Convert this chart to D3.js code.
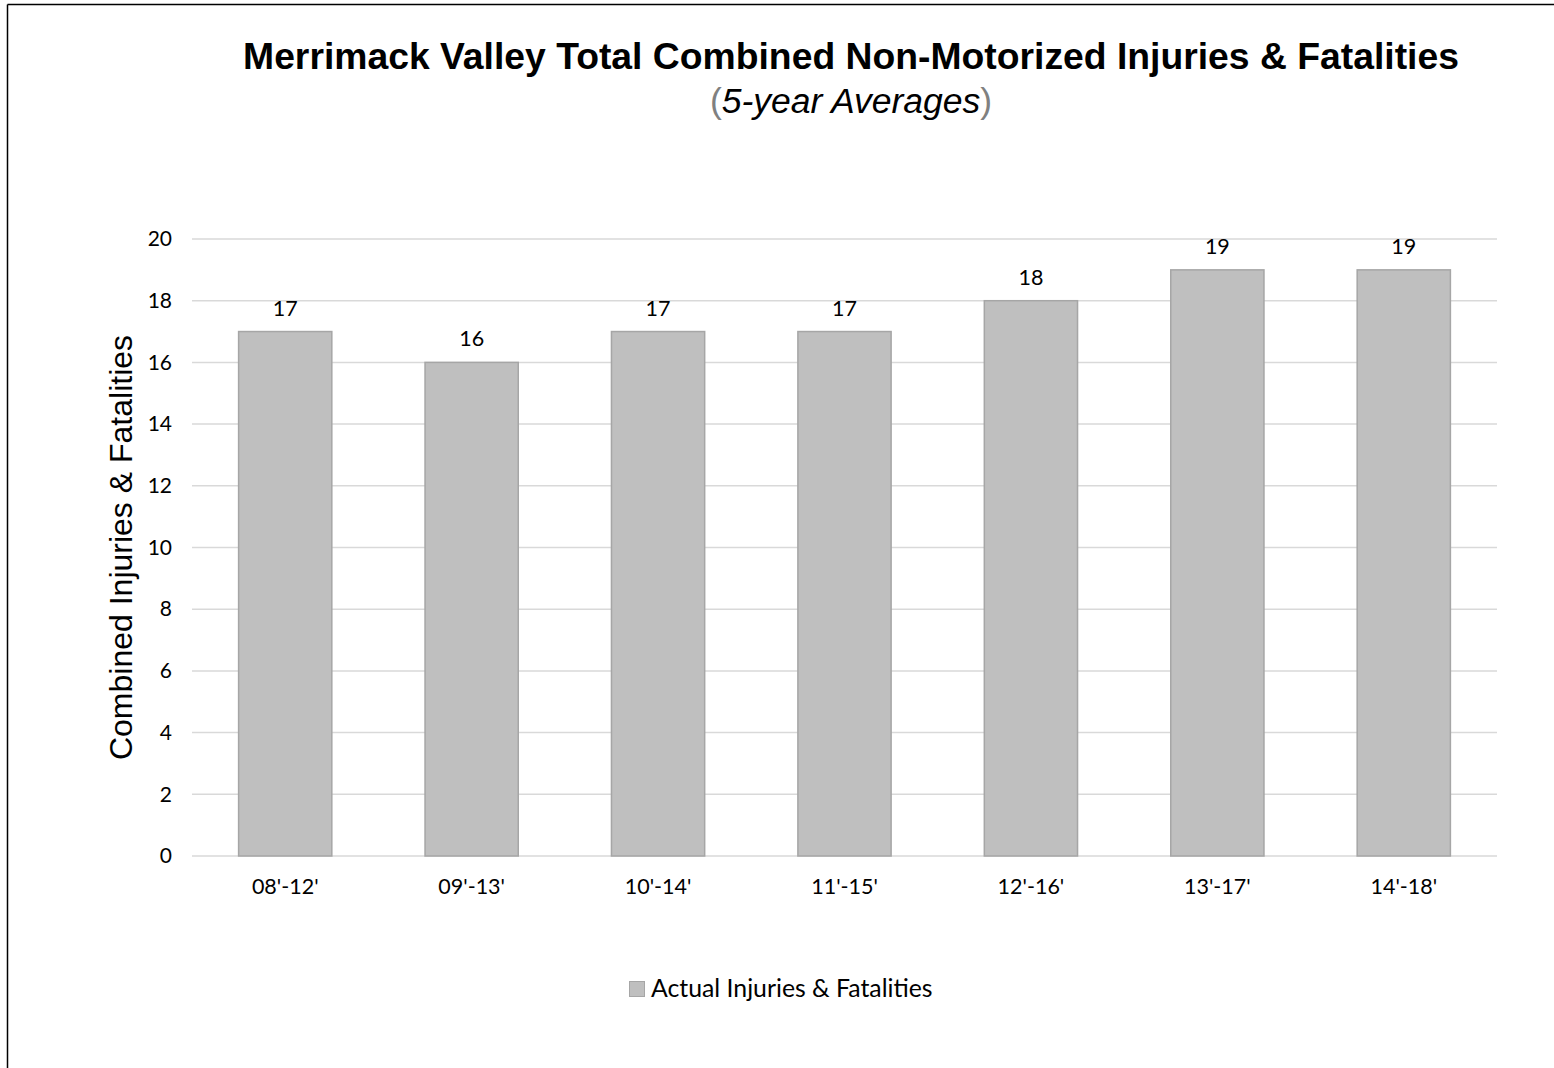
<!DOCTYPE html>
<html>
<head>
<meta charset="utf-8">
<script src="https://cdn.jsdelivr.net/npm/d3@7"></script>
<style>
  html, body { margin: 0; padding: 0; background: #fff; }
  svg { display: block; }
</style>
</head>
<body>
<svg id="chart" width="1554" height="1068"></svg>
<script>
const categories = ["08'-12'", "09'-13'", "10'-14'", "11'-15'", "12'-16'", "13'-17'", "14'-18'"];
const values = [17, 16, 17, 17, 18, 19, 19];
const yTicks = [0, 2, 4, 6, 8, 10, 12, 14, 16, 18, 20];
const seriesName = "Actual Injuries & Fatalities";

const svg = d3.select("#chart");
const W = 1554, H = 1068;
const margin = { left: 192, right: 57, top: 239, bottom: 212 };
const tickFont = "Lato, 'Open Sans', sans-serif";

// outer border (top and left visible)
svg.append("line").attr("x1", 7.5).attr("x2", W).attr("y1", 4.5).attr("y2", 4.5)
  .attr("stroke", "#000").attr("stroke-width", 1.5);
svg.append("line").attr("x1", 7.5).attr("x2", 7.5).attr("y1", 4.5).attr("y2", H)
  .attr("stroke", "#000").attr("stroke-width", 1.5);

const x = d3.scaleBand().domain(categories).range([margin.left, W - margin.right]).paddingInner(0.5).paddingOuter(0.25);
const y = d3.scaleLinear().domain([0, 20]).range([H - margin.bottom, margin.top]);

// gridlines
svg.append("g").selectAll("line").data(yTicks).join("line")
  .attr("x1", margin.left).attr("x2", W - margin.right)
  .attr("y1", d => y(d)).attr("y2", d => y(d))
  .attr("stroke", "#d9d9d9").attr("stroke-width", 1.5);

// y axis tick labels
const yAxis = d3.axisLeft(y).tickValues(yTicks).tickSize(0).tickPadding(20);
const gy = svg.append("g").attr("transform", `translate(${margin.left},0)`).call(yAxis);
gy.select(".domain").remove();
gy.selectAll("text").attr("font-family", tickFont).attr("font-size", 21).attr("fill", "#000");

// x axis tick labels
const xAxis = d3.axisBottom(x).tickSize(0).tickPadding(23);
const gx = svg.append("g").attr("transform", `translate(0,${y(0)})`).call(xAxis);
gx.select(".domain").remove();
gx.selectAll("text").attr("font-family", tickFont).attr("font-size", 21.5).attr("fill", "#000");

// bars
svg.append("g").selectAll("rect").data(values).join("rect")
  .attr("x", (d, i) => x(categories[i]))
  .attr("y", d => y(d))
  .attr("width", x.bandwidth())
  .attr("height", d => y(0) - y(d))
  .attr("fill", "#bfbfbf").attr("stroke", "#a6a6a6").attr("stroke-width", 1.5);

// data labels
svg.append("g").selectAll("text").data(values).join("text")
  .attr("x", (d, i) => x(categories[i]) + x.bandwidth() / 2)
  .attr("y", d => y(d) - 16)
  .attr("text-anchor", "middle")
  .attr("font-family", tickFont).attr("font-size", 21.5).attr("fill", "#000")
  .text(d => d);

// title
svg.append("text").attr("x", 851).attr("y", 69).attr("text-anchor", "middle")
  .attr("font-family", "'Liberation Sans', Arial, sans-serif").attr("font-weight", "bold")
  .attr("font-size", 37.3).attr("fill", "#000")
  .text("Merrimack Valley Total Combined Non-Motorized Injuries & Fatalities");

const sub = svg.append("text").attr("x", 851).attr("y", 113).attr("text-anchor", "middle")
  .attr("font-family", "'Liberation Sans', Arial, sans-serif")
  .attr("font-size", 35.5).attr("fill", "#000");
sub.append("tspan").attr("fill", "#808080").text("(");
sub.append("tspan").attr("font-style", "italic").text("5-year Averages");
sub.append("tspan").attr("fill", "#808080").text(")");

// y axis title
svg.append("text")
  .attr("transform", `translate(132,${(y(0) + y(20)) / 2}) rotate(-90)`)
  .attr("text-anchor", "middle")
  .attr("font-family", "'Liberation Sans', Arial, sans-serif")
  .attr("font-size", 32).attr("fill", "#000")
  .text("Combined Injuries & Fatalities");

// legend
const lg = svg.append("g").attr("transform", "translate(629,981)");
lg.append("rect").attr("x", 0.5).attr("y", 0.5).attr("width", 15).attr("height", 15)
  .attr("fill", "#bfbfbf").attr("stroke", "#a6a6a6").attr("stroke-width", 1);
lg.append("text").attr("x", 22).attr("y", 16)
  .attr("font-family", tickFont).attr("font-size", 24.8).attr("fill", "#000")
  .text(seriesName);
</script>
</body>
</html>
